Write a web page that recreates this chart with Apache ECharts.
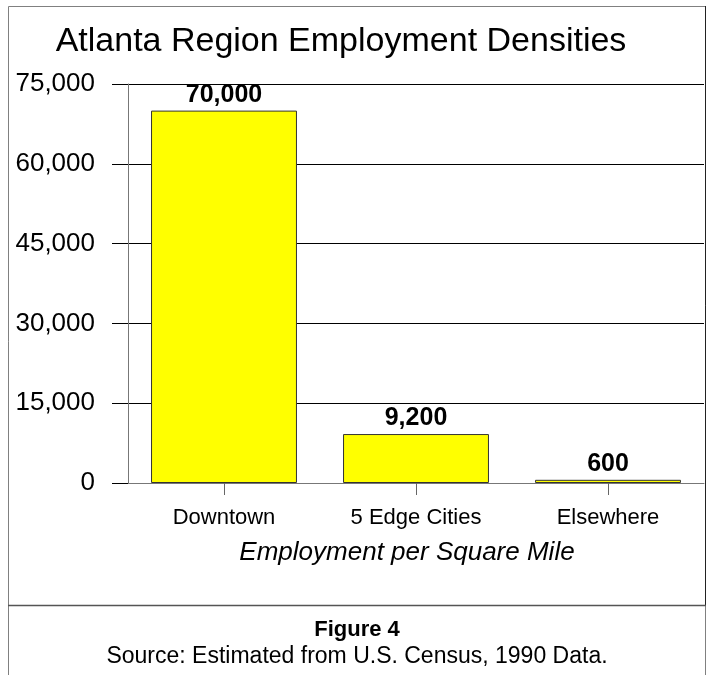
<!DOCTYPE html>
<html>
<head>
<meta charset="utf-8">
<title>Atlanta Region Employment Densities</title>
<script src="https://cdn.jsdelivr.net/npm/echarts@6/dist/echarts.min.js"></script>
<style>
  html, body { margin: 0; padding: 0; background: #ffffff; }
  #chart { width: 713px; height: 675px; }
</style>
</head>
<body>
<div id="chart"></div>
<script>
// Employment per square mile by area type
const categories = ['Downtown', '5 Edge Cities', 'Elsewhere'];
const densities = [70000, 9200, 600];
const yTicks = { min: 0, max: 75000, interval: 15000 };

const titleText = 'Atlanta Region Employment Densities';
const axisTitle = 'Employment per Square Mile';
const figureText = 'Figure 4';
const sourceText = 'Source: Estimated from U.S. Census, 1990 Data.';

const FONT = '"Liberation Sans", Arial, Helvetica, sans-serif';
const fmt = v => v.toLocaleString('en-US');

const chart = echarts.init(document.getElementById('chart'), null, { renderer: 'canvas' });

chart.setOption({
  backgroundColor: '#ffffff',
  animation: false,
  textStyle: { fontFamily: FONT, color: '#000' },
  grid: { left: 128, right: 9, top: 84, bottom: 192, containLabel: false },
  xAxis: {
    type: 'category',
    data: categories,
    axisLine: { show: true, lineStyle: { color: '#777', width: 1 } },
    axisTick: { show: true, alignWithLabel: true, length: 12, lineStyle: { color: '#666' } },
    axisLabel: { fontFamily: FONT, fontSize: 22, color: '#000', margin: 24 },
    name: axisTitle,
    nameLocation: 'middle',
    nameGap: 57,
    nameTextStyle: { fontFamily: FONT, fontSize: 26, fontStyle: 'italic', color: '#000', padding: [0, 18, 0, 0] }
  },
  yAxis: {
    type: 'value',
    min: yTicks.min,
    max: yTicks.max,
    interval: yTicks.interval,
    axisLine: { show: true, lineStyle: { color: '#777', width: 1 } },
    axisTick: { show: true, length: 16, lineStyle: { color: '#000' } },
    axisLabel: { fontFamily: FONT, fontSize: 26, color: '#000', margin: 33, formatter: fmt },
    splitLine: { show: true, lineStyle: { color: '#000', width: 1 } }
  },
  series: [{
    type: 'bar',
    data: densities,
    barCategoryGap: '24%',
    itemStyle: { color: '#FFFF00', borderColor: '#333', borderWidth: 1 },
    label: {
      show: true,
      position: 'top',
      distance: 3,
      fontFamily: FONT,
      fontSize: 25,
      fontWeight: 'bold',
      color: '#000',
      formatter: p => fmt(p.value)
    }
  }],
  graphic: [
    // outer frame
    { type: 'rect', silent: true, z: 10,
      shape: { x: 8.5, y: 6.5, width: 697, height: 700 },
      style: { fill: null, stroke: '#808080', lineWidth: 1 } },
    // darker right edge of the chart panel
    { type: 'line', silent: true, z: 11,
      shape: { x1: 705.5, y1: 6, x2: 705.5, y2: 605 },
      style: { stroke: '#222', lineWidth: 1 } },
    // separator between chart and caption
    { type: 'line', silent: true, z: 11,
      shape: { x1: 8, y1: 605.5, x2: 706, y2: 605.5 },
      style: { stroke: '#555', lineWidth: 1.5 } },
    // chart title
    { type: 'text', silent: true, z: 12,
      style: { text: titleText, x: 341, y: 42, font: '34px ' + FONT, fill: '#000',
               align: 'center', verticalAlign: 'middle', textAlign: 'center', textVerticalAlign: 'middle' } },
    // caption
    { type: 'text', silent: true, z: 12,
      style: { text: figureText, x: 357, y: 630, font: 'bold 22px ' + FONT, fill: '#000',
               align: 'center', verticalAlign: 'middle', textAlign: 'center', textVerticalAlign: 'middle' } },
    { type: 'text', silent: true, z: 12,
      style: { text: sourceText, x: 357, y: 657, font: '23px ' + FONT, fill: '#000',
               align: 'center', verticalAlign: 'middle', textAlign: 'center', textVerticalAlign: 'middle' } }
  ]
});
</script>
</body>
</html>
